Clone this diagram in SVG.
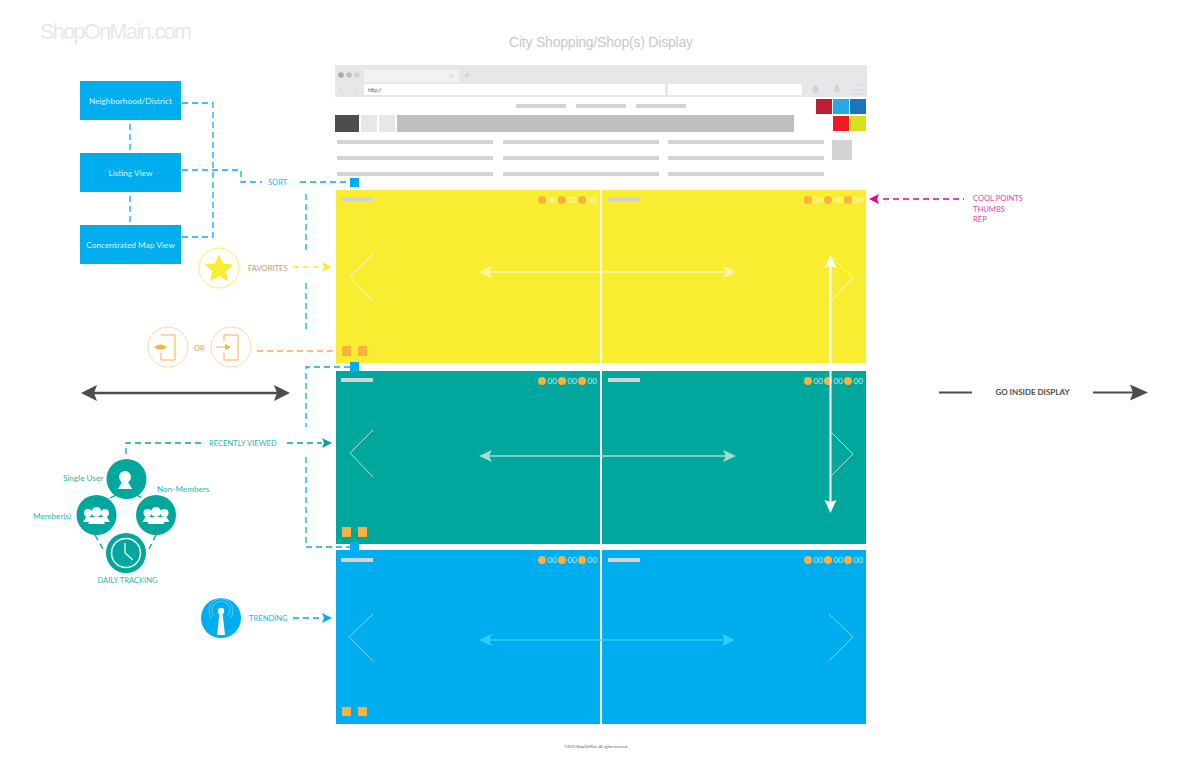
<svg xmlns="http://www.w3.org/2000/svg" width="1200" height="760" viewBox="0 0 1200 760">
<style>
text{font-family:Lato,"Open Sans","Liberation Sans",sans-serif}
.t8{font-size:7.600px}
.tl{font-size:8.200px}
.tb{fill:#19b6f0}.tt{fill:#2db5ab}.tc{fill:#c49a6c}.to{fill:#c9a36d}.tp{fill:#f03fa8}
.lbl{font-size:8.300px;fill:#d9f4ff;text-anchor:middle}
.sc{font-size:8px;fill:#ffffff;opacity:.8}
.dot{fill:#fbb040}.bar{fill:#d1d3d4}.gl{fill:#d1d3d4}
.d{fill:none;stroke-width:1.300;stroke-dasharray:6 4}
.db{stroke:#00aeef}.dt{stroke:#00a79d}.dy{stroke:#f9ed32}.dO{stroke:#fbb040}.dp{stroke:#ec008c}
.chev{fill:none;stroke-width:.9}
.blueb{fill:#00aeef}.org{fill:#fbb040}
</style>
<rect width="1200" height="760" fill="#ffffff"/>
<text x="40" y="39" font-size="21.500" style="font-family:'Liberation Sans',Arial,sans-serif" fill="#ebe8e1" textLength="152">ShopOnMain.com</text>
<text x="601" y="47" font-size="14" text-anchor="middle" style="font-family:'Liberation Sans',Arial,sans-serif" fill="#c6c8ca" textLength="184">City Shopping/Shop(s) Display</text>

<g id="browser">
<rect x="335" y="65" width="532" height="32" fill="#e6e7e8"/>
<circle cx="341" cy="75" r="2.800" fill="#a7a9ac"/><circle cx="349" cy="75" r="2.800" fill="#bcbec0"/><circle cx="357" cy="75" r="2.800" fill="#d1d3d4"/>
<rect x="364" y="70" width="95" height="12" fill="#f1f2f2"/>
<path d="M449 73l5 5M454 73l-5 5M467 72v6M464 75h6" stroke="#c7c8ca" stroke-width=".8" fill="none"/>
<path d="M344 86l-5 4.500 5 4.500M354 86l5 4.500-5 4.500" stroke="#d1d3d4" stroke-width=".8" fill="none"/>
<rect x="364" y="84" width="301" height="11" fill="#ffffff"/>
<rect x="668" y="84" width="134" height="11" fill="#ffffff"/>
<text x="368" y="91.500" font-size="5" fill="#58595b">http://</text>
<path d="M815.500 85l-4 4h1.500v4h5v-4h1.500z" fill="#d1d3d4"/>
<path d="M835 85h4v4h2l-4 4-4-4h2z" fill="#d1d3d4"/>
<path d="M853 85h10M853 89.500h10M853 94h10" stroke="#d1d3d4" stroke-width=".8"/>
<rect x="516" y="104" width="50" height="4" class="gl"/><rect x="576" y="104" width="50" height="4" class="gl"/><rect x="636" y="104" width="50" height="4" class="gl"/>
<rect x="335" y="115" width="24" height="17" fill="#4d4d4f"/>
<rect x="361" y="115" width="16" height="17" fill="#e6e7e8"/><rect x="379" y="115" width="16" height="17" fill="#e6e7e8"/>
<rect x="397" y="115" width="397" height="17" fill="#bcbec0"/>
<rect x="337" y="140" width="156" height="4" class="gl"/><rect x="503" y="140" width="156" height="4" class="gl"/><rect x="668" y="140" width="156" height="4" class="gl"/>
<rect x="337" y="156" width="156" height="4" class="gl"/><rect x="503" y="156" width="156" height="4" class="gl"/><rect x="668" y="156" width="156" height="4" class="gl"/>
<rect x="337" y="172" width="156" height="4" class="gl"/><rect x="503" y="172" width="156" height="4" class="gl"/><rect x="668" y="172" width="156" height="4" class="gl"/>
<rect x="816" y="99" width="16" height="15" fill="#be1e2d"/><rect x="833" y="99" width="16" height="15" fill="#27aae1"/><rect x="850" y="99" width="16" height="15" fill="#1c75bc"/>
<rect x="833" y="116" width="16" height="15" fill="#ed1c24"/><rect x="850" y="116" width="16" height="15" fill="#d7df23"/>
<rect x="832" y="140" width="20" height="20" fill="#d1d3d4"/>
</g>

<g id="panel-yellow-left"><rect x="336" y="190" width="264" height="173.500" fill="#f9ed32"/><rect x="341" y="197" width="32" height="4" class="bar"/><circle class="dot" cx="542" cy="200" r="4"/><text class="sc" x="547.500" y="203">00</text><circle class="dot" cx="562" cy="200" r="4"/><text class="sc" x="567.500" y="203">00</text><circle class="dot" cx="582" cy="200" r="4"/><text class="sc" x="587.500" y="203">00</text><path class="chev" stroke="#fdfbd0" d="M373 254l-23 23 23 24"/></g>
<g id="panel-yellow-right"><rect x="602" y="190" width="264" height="173.500" fill="#f9ed32"/><rect x="608" y="197" width="32" height="4" class="bar"/><circle class="dot" cx="808" cy="200" r="4"/><text class="sc" x="813.500" y="203">00</text><circle class="dot" cx="828" cy="200" r="4"/><text class="sc" x="833.500" y="203">00</text><circle class="dot" cx="848" cy="200" r="4"/><text class="sc" x="853.500" y="203">00</text><path class="chev" stroke="#fdfbd0" d="M830 255l23 23-23 24"/></g>
<g id="panel-teal-left"><rect x="336" y="371" width="264" height="173" fill="#00a79d"/><rect x="341" y="378" width="32" height="4" class="bar"/><circle class="dot" cx="542" cy="381" r="4"/><text class="sc" x="547.500" y="384">00</text><circle class="dot" cx="562" cy="381" r="4"/><text class="sc" x="567.500" y="384">00</text><circle class="dot" cx="582" cy="381" r="4"/><text class="sc" x="587.500" y="384">00</text><path class="chev" stroke="#c5e8e4" d="M373 430l-23 23 23 24"/></g>
<g id="panel-teal-right"><rect x="602" y="371" width="264" height="173" fill="#00a79d"/><rect x="608" y="378" width="32" height="4" class="bar"/><circle class="dot" cx="808" cy="381" r="4"/><text class="sc" x="813.500" y="384">00</text><circle class="dot" cx="828" cy="381" r="4"/><text class="sc" x="833.500" y="384">00</text><circle class="dot" cx="848" cy="381" r="4"/><text class="sc" x="853.500" y="384">00</text><path class="chev" stroke="#c5e8e4" d="M830 431l23 23-23 23"/></g>
<g id="panel-blue-left"><rect x="336" y="550" width="264" height="174" fill="#00aeef"/><rect x="341" y="558" width="32" height="4" class="bar"/><circle class="dot" cx="542" cy="560" r="4"/><text class="sc" x="547.500" y="563">00</text><circle class="dot" cx="562" cy="560" r="4"/><text class="sc" x="567.500" y="563">00</text><circle class="dot" cx="582" cy="560" r="4"/><text class="sc" x="587.500" y="563">00</text><path class="chev" stroke="#7fe0fa" d="M373 614l-24 23 24 24"/></g>
<g id="panel-blue-right"><rect x="602" y="550" width="264" height="174" fill="#00aeef"/><rect x="608" y="558" width="32" height="4" class="bar"/><circle class="dot" cx="808" cy="560" r="4"/><text class="sc" x="813.500" y="563">00</text><circle class="dot" cx="828" cy="560" r="4"/><text class="sc" x="833.500" y="563">00</text><circle class="dot" cx="848" cy="560" r="4"/><text class="sc" x="853.500" y="563">00</text><path class="chev" stroke="#7fe0fa" d="M829 614l24 23-24 24"/></g>

<g id="markers">
<rect x="342" y="346" width="9" height="10" class="org"/><rect x="358" y="346" width="9" height="10" class="org"/>
<rect x="342" y="527" width="9" height="10" class="org"/><rect x="358" y="527" width="9" height="10" class="org"/>
<rect x="342" y="707" width="9" height="9" class="org"/><rect x="358" y="707" width="9" height="9" class="org"/>
<rect x="350" y="178" width="9" height="9" class="blueb"/><rect x="350" y="362" width="9" height="9" class="blueb"/><rect x="350" y="542" width="9" height="9" class="blueb"/>
</g>

<g id="connectors">
<path class="d db" d="M182 103H213V237H182"/>
<path class="d db" d="M182 170H241V182H262"/>
<path class="d db" d="M300 182H350"/>
<path class="d db" d="M130 124V150M130 196V222"/>
<path class="d db" d="M306 194V250M306 283V333"/>
<path class="d db" d="M350 367H306V427M306 457V547H350"/>
<path class="d dy" d="M293 267H322"/><path d="M322 262l10 5-10 5 2-5z" fill="#f9ed32"/>
<path class="d dO" d="M257 351H333"/>
<path class="d dt" d="M126 454V443H205M287 443H322"/><path d="M322 438l10 5-10 5 2-5z" fill="#00a79d"/>
<path class="d dt" d="M110 498L116 495M136 495L143 498"/>
<path class="d dt" d="M95 535L103 549M156 535L149 549"/>
<path class="d db" d="M293 618H322"/><path d="M322 613l10 5-10 5 2-5z" fill="#00aeef"/>
<path class="d dp" d="M883 199H964"/><path d="M879 194l-10 5 10 5-2-5z" fill="#ec008c"/>
<path d="M81 393l16-8-3 8 3 8zM290 393l-16-8 3 8-3 8z" fill="#4d4d4f"/><path d="M92 393H279" stroke="#4d4d4f" stroke-width="2.500"/>
<path d="M939 392.500H972M1093 392.500H1136" stroke="#4d4d4f" stroke-width="2"/><path d="M1148 392.500l-18-8 3 8-3 8z" fill="#4d4d4f"/>
<path d="M479 272l13-6-3 6 3 6z M736 272l-13-6 3 6-3 6z" fill="#fbf7b0"/><path d="M488 272H727" stroke="#fbf7b0" stroke-width="1.500"/>
<path d="M479 456l13-6-3 6 3 6z M736 456l-13-6 3 6-3 6z" fill="#a6dcd6"/><path d="M488 456H727" stroke="#a6dcd6" stroke-width="1.500"/>
<path d="M479 640l13-6-3 6 3 6z M735 640l-13-6 3 6-3 6z" fill="#2fd0f7"/><path d="M488 640H726" stroke="#2fd0f7" stroke-width="1.500"/>
<path d="M830.500 255l-6 13 6-2 6 2zM830.500 513l-6-13 6 2 6-2z" fill="#ffffff"/><path d="M830.500 264V504" stroke="#ffffff" stroke-width="2"/>
</g>

<g id="node-neighborhood"><rect x="80" y="81" width="101" height="39" class="blueb"/><text class="lbl" x="130.500" y="104">Neighborhood/District</text></g>
<g id="node-listing"><rect x="80" y="153" width="101" height="39" class="blueb"/><text class="lbl" x="130.500" y="176">Listing View</text></g>
<g id="node-map"><rect x="80" y="225" width="101" height="39" class="blueb"/><text class="lbl" x="130.500" y="248">Concentrated Map View</text></g>

<text class="t8 tb" x="268" y="185">SORT</text>

<g id="node-favorites"><circle cx="219" cy="268" r="20" fill="#fff" stroke="#f9ed32" stroke-width=".8"/><path d="M219 254l4.200 9.500 10.300.9-7.800 6.800 2.400 10.100-9.100-5.400-9.100 5.400 2.400-10.100-7.800-6.800 10.300-.9z" fill="#f9ed32"/><text class="t8 tc" x="248" y="271">FAVORITES</text></g>

<g id="node-door-eye"><circle cx="168" cy="347" r="20" fill="#fff" stroke="#fbb040" stroke-opacity=".6" stroke-width=".8"/><path d="M161 335H175V360H161V353" fill="none" stroke="#fbb040"/><path d="M154 347q6-5 13 0q-7 5-13 0z" fill="#fbb040"/></g>
<text class="t8 to" x="194" y="350.500">OR</text>
<g id="node-door-arrow"><circle cx="231" cy="347" r="20" fill="#fff" stroke="#fbb040" stroke-opacity=".6" stroke-width=".8"/><path d="M224 341V335H238V360H224V353" fill="none" stroke="#fbb040"/><path d="M216 347H227" stroke="#fbb040"/><path d="M225 344l6 3-6 3z" fill="#fbb040"/></g>

<text class="t8 tt" x="209" y="446">RECENTLY VIEWED</text>
<g id="node-single"><circle cx="126.500" cy="479" r="20" fill="#00a79d"/><circle cx="125" cy="477" r="6" fill="#fff"/><path d="M118 489l4-7h6l4 7z" fill="#fff"/><text class="tl tt" x="63" y="481">Single User</text></g>
<g id="node-members"><circle cx="96.500" cy="515" r="20" fill="#00a79d"/><g fill="#fff"><circle cx="88" cy="513" r="4"/><circle cx="105" cy="513" r="4"/><path d="M83 522l3-5h21l3 5z"/><circle cx="96.500" cy="512" r="5"/><path d="M88 524l4-7h9l4 7z"/></g><text class="tl tt" x="33" y="519">Member(s)</text></g>
<g id="node-nonmembers"><circle cx="156" cy="515" r="20" fill="#00a79d"/><g fill="#fff"><circle cx="147.500" cy="513" r="4"/><circle cx="164.500" cy="513" r="4"/><path d="M142.500 522l3-5h21l3 5z"/><circle cx="156" cy="512" r="5"/><path d="M147.500 524l4-7h9l4 7z"/></g><text class="tl tt" x="157" y="492">Non-Members</text></g>
<g id="node-daily"><circle cx="126" cy="553" r="20" fill="#00a79d"/><circle cx="126" cy="553" r="14.500" fill="none" stroke="#fff" stroke-width="1.500"/><path d="M125 543V553L133 560" fill="none" stroke="#fff" stroke-width="1.200"/><text class="t8 tt" x="127.500" y="583" text-anchor="middle">DAILY TRACKING</text></g>

<g id="node-trending"><circle cx="221" cy="618" r="20" fill="#00aeef"/><circle cx="221" cy="611" r="3.200" fill="#fff"/><path d="M219.500 613h3l2.500 22h-8z" fill="#fff"/><path d="M214 616a9 9 0 1 1 14 0M211.500 618a12 12 0 1 1 19 0" fill="none" stroke="#fff" stroke-opacity=".6" stroke-width=".6"/><text class="t8 tb" x="249" y="621">TRENDING</text></g>

<g id="note-cool"><text class="t8 tp" x="973" y="201">COOL POINTS</text><text class="t8 tp" x="973" y="212">THUMBS</text><text class="t8 tp" x="973" y="222">REP</text></g>

<text x="1032.500" y="395" font-size="8" font-weight="700" fill="#4d4d4f" text-anchor="middle">GO INSIDE DISPLAY</text>
<text x="596" y="747.500" font-size="3.600" fill="#58595b" text-anchor="middle">©2015 ShopOnMain. All rights reserved.</text>
</svg>
